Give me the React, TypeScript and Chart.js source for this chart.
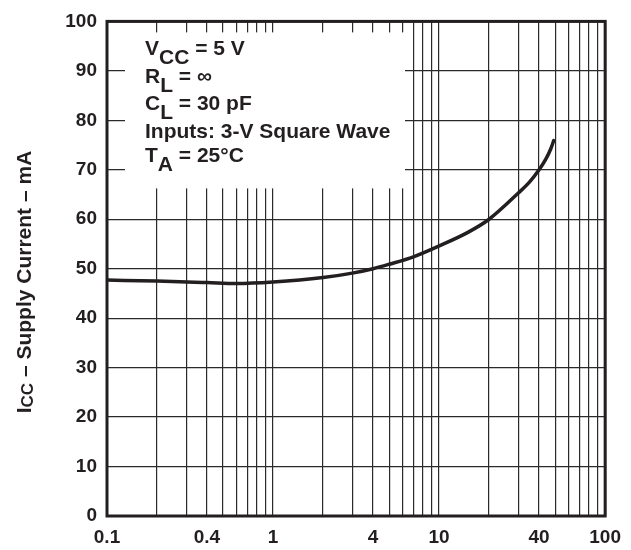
import React, { useEffect, useRef } from "react";
import { Chart, registerables } from "chart.js";

Chart.register(...registerables);

// ---- Data ----
const frequencyMHz = [0.1, 0.2, 0.4, 0.6, 1, 2, 3, 4, 5, 7, 10, 15, 20, 30, 35, 40, 44, 47, 49];
const supplyCurrentMA = [47.7, 47.5, 47.2, 47.0, 47.3, 48.2, 49.1, 50.0, 50.9, 52.4, 54.6, 57.4, 60.0, 65.3, 67.5, 70.0, 72.2, 74.2, 75.9];

const xGridValues = [
  0.1, 0.2, 0.3, 0.4, 0.5, 0.6, 0.7, 0.8, 0.9,
  1, 2, 3, 4, 5, 6, 7, 8, 9,
  10, 20, 30, 40, 50, 60, 70, 80, 90, 100,
];
const xLabelValues = [0.1, 0.4, 1, 4, 10, 40, 100];
const yMin = 0;
const yMax = 100;
const yStep = 10;

type Seg = { t: string; sub?: boolean };
const conditionLines: Seg[][] = [
  [{ t: "V" }, { t: "CC", sub: true }, { t: " = 5 V" }],
  [{ t: "R" }, { t: "L", sub: true }, { t: " = \u221E" }],
  [{ t: "C" }, { t: "L", sub: true }, { t: " = 30 pF" }],
  [{ t: "Inputs: 3-V Square Wave" }],
  [{ t: "T" }, { t: "A", sub: true }, { t: " = 25\u00B0C" }],
];
const yTitle: Seg[] = [{ t: "I" }, { t: "CC", sub: true }, { t: " \u2013 Supply Current \u2013 mA" }];

const INK = "#231f20";
const FONT = "'Liberation Sans', Arial, Helvetica, sans-serif";

export default function App() {
  const ref = useRef<HTMLCanvasElement>(null);

  useEffect(() => {
    const canvas = ref.current;
    if (!canvas) return;

    const lineBaselines = [34, 62, 89, 117, 141];

    const overlay = {
      id: "overlay",
      beforeDatasetsDraw(chart: any) {
        const { ctx, chartArea: ca } = chart;
        ctx.save();
        ctx.fillStyle = "#ffffff";
        ctx.fillRect(ca.left + 18, ca.top + 11, 280, 156);
        ctx.fillStyle = INK;
        ctx.textBaseline = "alphabetic";
        ctx.font = `bold 21px ${FONT}`;
        conditionLines.forEach((segs, i) => {
          let x = ca.left + 38;
          const y = ca.top + lineBaselines[i];
          segs.forEach((s) => {
            ctx.fillText(s.t, x, y + (s.sub ? 9 : 0));
            x += ctx.measureText(s.t).width;
          });
        });
        ctx.restore();
      },
      afterDraw(chart: any) {
        const { ctx, chartArea: ca } = chart;
        ctx.save();
        ctx.strokeStyle = INK;
        ctx.lineWidth = 3;
        ctx.strokeRect(ca.left, ca.top, ca.right - ca.left, ca.bottom - ca.top);

        // rotated y-axis title with subscript
        ctx.fillStyle = INK;
        ctx.textBaseline = "alphabetic";
        const mainFont = `bold 21px ${FONT}`;
        const subFont = `bold 17px ${FONT}`;
        let total = 0;
        yTitle.forEach((s) => {
          ctx.font = s.sub ? subFont : mainFont;
          total += ctx.measureText(s.t).width;
        });
        ctx.translate(31, 282);
        ctx.rotate(-Math.PI / 2);
        let x = -total / 2;
        yTitle.forEach((s) => {
          ctx.font = s.sub ? subFont : mainFont;
          ctx.fillText(s.t, x, s.sub ? 2 : 0);
          x += ctx.measureText(s.t).width;
        });
        ctx.restore();
      },
    };

    const tickFont = { family: FONT, size: 19, weight: "bold" as const };

    const chart = new Chart(canvas, {
      type: "line",
      data: {
        datasets: [
          {
            data: frequencyMHz.map((x, i) => ({ x, y: supplyCurrentMA[i] })),
            borderColor: INK,
            borderWidth: 3.5,
            pointRadius: 0,
            cubicInterpolationMode: "monotone",
            borderCapStyle: "round",
            fill: false,
          },
        ],
      },
      options: {
        animation: false,
        responsive: false,
        layout: { padding: { left: 0, top: 16, right: 23, bottom: 0 } },
        plugins: { legend: { display: false }, tooltip: { enabled: false } },
        scales: {
          x: {
            type: "logarithmic",
            min: 0.1,
            max: 100,
            afterBuildTicks: (scale: any) => {
              scale.ticks = xGridValues.map((v) => ({ value: v }));
            },
            afterFit: (scale: any) => {
              scale.height = 34;
            },
            grid: { color: "#2a2a2a", lineWidth: 1.2, drawTicks: false },
            border: { display: false },
            ticks: {
              autoSkip: false,
              maxRotation: 0,
              minRotation: 0,
              padding: 10,
              color: INK,
              font: tickFont,
              callback: (v: any) => (xLabelValues.includes(Number(v)) ? String(v) : ""),
            },
          },
          y: {
            type: "linear",
            min: yMin,
            max: yMax,
            afterFit: (scale: any) => {
              scale.width = 107;
            },
            grid: { color: "#2a2a2a", lineWidth: 1.2, drawTicks: false },
            border: { display: false },
            ticks: {
              stepSize: yStep,
              padding: 10,
              color: INK,
              font: tickFont,
            },
          },
        },
      },
      plugins: [overlay],
    } as any);

    return () => chart.destroy();
  }, []);

  return (
    <div style={{ position: "fixed", left: 0, top: 0, width: 631, height: 550, background: "#fff" }}>
      <canvas ref={ref} width={631} height={550} style={{ display: "block" }} />
    </div>
  );
}
